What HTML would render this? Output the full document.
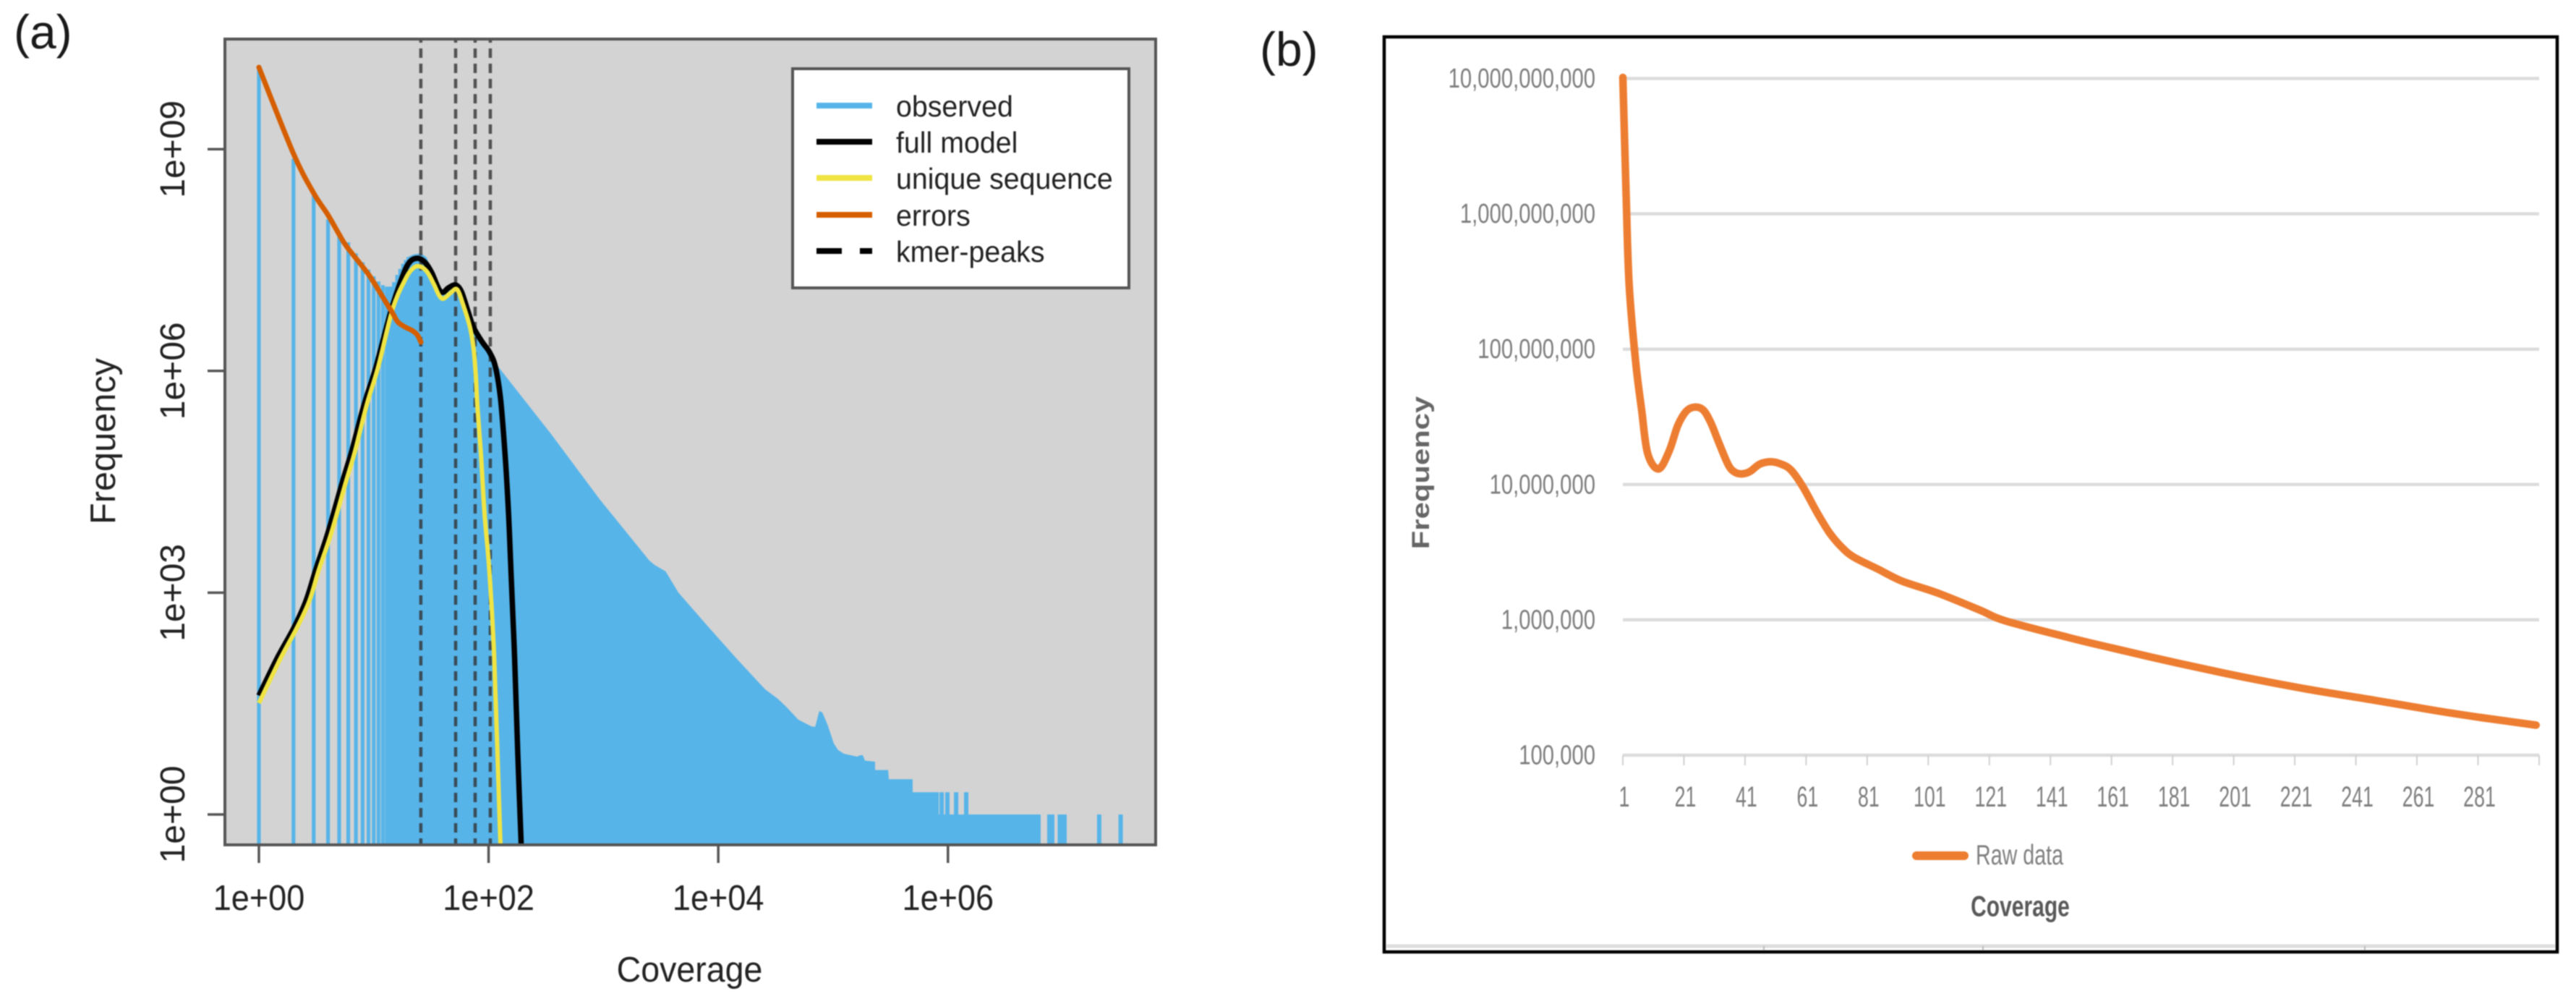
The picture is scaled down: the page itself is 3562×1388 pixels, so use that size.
<!DOCTYPE html>
<html lang="en">
<head>
<meta charset="utf-8">
<title>K-mer coverage histograms</title>
<style>
html,body{margin:0;padding:0;background:#fff;width:3562px;height:1388px;overflow:hidden}
svg{display:block;filter:blur(.9px)}
text{font-family:"Liberation Sans",sans-serif}
</style>
</head>
<body>
<svg id="figure" xmlns="http://www.w3.org/2000/svg" width="3562" height="1388" viewBox="0 0 3562 1388">
  <defs><clipPath id="clip-a"><rect x="311" y="54" width="1287" height="1114"/></clipPath></defs>

  <text x="19" y="67" font-size="66" fill="#1a1a1a">(a)</text>
  <g id="panel-a">
    <rect x="311" y="54" width="1287" height="1114" fill="#d3d3d3"/>
    <g id="a-marks" clip-path="url(#clip-a)"></g>
    <rect x="311" y="54" width="1287" height="1114" fill="none" stroke="#555" stroke-width="4"/>
    <g id="a-axes"></g>
    <text transform="translate(159,610) rotate(-90)" text-anchor="middle" font-size="48.7" fill="#222">Frequency</text>
    <text transform="translate(953.5,1357) scale(.95,1)" text-anchor="middle" font-size="49" fill="#222">Coverage</text>
    <g>
      <rect x="1096" y="95" width="465" height="303" fill="#fff" stroke="#555" stroke-width="4"/>
      <g>
        <line x1="1129" x2="1206" y1="146" y2="146" stroke="#56B4E9" stroke-width="8"/>
        <text transform="translate(1239,161) scale(.96,1)" font-size="41" fill="#222">observed</text>
      </g>
      <g>
        <line x1="1129" x2="1206" y1="196" y2="196" stroke="#000" stroke-width="8"/>
        <text transform="translate(1239,211) scale(.96,1)" font-size="41" fill="#222">full model</text>
      </g>
      <g>
        <line x1="1129" x2="1206" y1="246" y2="246" stroke="#F0E442" stroke-width="8"/>
        <text transform="translate(1239,261) scale(.96,1)" font-size="41" fill="#222">unique sequence</text>
      </g>
      <g>
        <line x1="1129" x2="1206" y1="297" y2="297" stroke="#D55E00" stroke-width="8"/>
        <text transform="translate(1239,312) scale(.96,1)" font-size="41" fill="#222">errors</text>
      </g>
      <g>
        <line x1="1129" x2="1206" y1="347" y2="347" stroke="#000" stroke-width="8" stroke-dasharray="35 25"/>
        <text transform="translate(1239,362) scale(.96,1)" font-size="41" fill="#222">kmer-peaks</text>
      </g>
    </g>
  </g>

  <text x="1742" y="91" font-size="66" fill="#1a1a1a">(b)</text>
  <g id="panel-b">
    <rect x="1914" y="51" width="1622" height="1265" fill="#fff" stroke="#000" stroke-width="4.5"/>
    <line x1="1917" x2="3533" y1="1308" y2="1308" stroke="#ddd" stroke-width="5"/>
    <line x1="2439" x2="2439" y1="1308" y2="1314" stroke="#bbb" stroke-width="2"/>
    <line x1="2742" x2="2742" y1="1308" y2="1314" stroke="#bbb" stroke-width="2"/>
    <line x1="3270" x2="3270" y1="1308" y2="1314" stroke="#bbb" stroke-width="2"/>
    <g id="b-axes"></g>
    <g id="b-marks"></g>
    <text transform="translate(1976,653.5) rotate(-90) scale(1.23,1)" text-anchor="middle" font-size="34" font-weight="bold" fill="#666">Frequency</text>
    <text transform="translate(2793.5,1266.5) scale(.75,1)" text-anchor="middle" font-size="40" font-weight="bold" fill="#595959">Coverage</text>
    <g>
      <line x1="2650" x2="2716" y1="1183" y2="1183" stroke="#ED7D31" stroke-width="12" stroke-linecap="round"/>
      <text transform="translate(2732,1195) scale(.735,1)" font-size="39" fill="#7f7f7f">Raw data</text>
    </g>
  </g>
</svg>

<script>
// ---------- Panel (a) data: log10 units ----------
const aXTickExponents = [0, 2, 4, 6];
const aXTickLabels = ['1e+00', '1e+02', '1e+04', '1e+06'];
const aYTickExponents = [0, 3, 6, 9];
const aYTickLabels = ['1e+00', '1e+03', '1e+06', '1e+09'];

const kmerPeakLogCoverage = [1.41, 1.713, 1.883, 2.015];

// Integer-coverage spikes of the observed histogram
const spikeCoverage = [1,2,3,4,5,6,7,8,9,10,11,12,13,14,15,16,17,18,19,20];
const spikeLogFreq = [10.11,8.87,8.376,8.05,7.83,7.74,7.59,7.47,7.37,7.28,7.21,7.16,7.14,7.14,7.20,7.30,7.38,7.45,7.50,7.54];

// Continuous tail of the observed histogram
const tailLogCoverage = [1.301,1.341,1.379,1.411,1.461,1.505,1.549,1.587,1.637,1.681,1.713,1.757,1.795,1.839,1.870,1.914,1.965,2.009,2.059,2.544,2.966,3.398,3.445,3.542,3.652,3.904,4.156,4.408,4.518,4.591,4.698,4.808,4.843,4.880,4.906,4.952,5.006,5.044,5.094,5.208,5.239,5.258,5.277,5.365,5.365,5.479,5.485,5.693,5.693,5.893,5.893,6.807];
const tailLogFreq = [7.544,7.573,7.583,7.593,7.534,7.358,7.182,7.055,7.104,7.143,7.143,7.006,6.859,6.654,6.517,6.399,6.311,6.243,6.106,5.147,4.266,3.438,3.376,3.288,3.004,2.554,2.114,1.693,1.566,1.458,1.282,1.194,1.184,1.399,1.380,1.213,0.959,0.871,0.822,0.783,0.802,0.802,0.729,0.714,0.602,0.602,0.477,0.477,0.301,0.301,0,0];

// Rare high-coverage k-mers
const rareLogCoverage = [5.901,5.945,5.995,6.071,6.159,6.883,6.908,6.974,7.002,7.015,7.317,7.504];
const rareLogFreq = [0.301,0.301,0.301,0.301,0.301,0,0,0,0,0,0,0];

const modelLogCoverage = [0,.159,.307,.411,.496,.600,.726,.810,.915,1.020,1.146,1.251,1.314,1.385,1.448,1.505,1.568,1.606,1.650,1.713,1.763,1.820,1.870,1.946,2.009,2.059,2.103,2.143,2.174,2.196,2.227,2.254,2.284];
const modelLogFreq = [1.609,2.114,2.534,2.896,3.317,3.806,4.491,4.922,5.538,6.057,6.791,7.280,7.476,7.524,7.466,7.329,7.104,7.065,7.123,7.162,7.074,6.810,6.585,6.389,6.252,6.057,5.636,4.883,4.070,3.258,2.114,0.841,-0.411];

const uniqueLogCoverage = [0,.189,.334,.441,.523,.630,.756,.838,.938,1.039,1.165,1.272,1.335,1.392,1.461,1.524,1.568,1.606,1.669,1.725,1.776,1.839,1.870,1.889,1.902,1.933,1.965,2.007,2.049,2.103];
const uniqueLogFreq = [1.507,2.114,2.534,2.896,3.317,3.806,4.491,4.922,5.538,6.057,6.840,7.231,7.378,7.417,7.348,7.172,7.025,6.977,7.055,7.104,6.908,6.585,6.292,5.930,5.538,4.883,4.070,3.288,2.114,-0.411];

const errorLogCoverage = [0,.300,.477,.601,.695,.768,.957,1.083,1.165,1.209,1.272,1.335,1.379,1.411];
const errorLogFreq = [10.108,8.943,8.405,8.112,7.857,7.674,7.300,6.986,6.781,6.663,6.595,6.546,6.487,6.389];

// ---------- Panel (b) data ----------
const bYTickExponents = [10, 9, 8, 7, 6, 5];
const bYTickLabels = ['10,000,000,000','1,000,000,000','100,000,000','10,000,000','1,000,000','100,000'];
const bXTickValues = [1,21,41,61,81,101,121,141,161,181,201,221,241,261,281,301];
const bXTickLabels = ['1','21','41','61','81','101','121','141','161','181','201','221','241','261','281',''];
const rawCoverage = [1,2.07,3.06,5.19,7.16,9.13,12.7,16.2,19,21.8,24.5,27.3,29.7,32.4,35.6,37.9,40.3,42.7,45.8,49.4,52.9,56.1,60,64.8,68.7,72.7,76.6,84.5,92.4,104.2,118,126,147,161,183,204,225,247,268,282,300];
const rawLogFreq = [10.008,9.148,8.479,7.908,7.551,7.230,7.115,7.249,7.436,7.542,7.572,7.551,7.462,7.311,7.142,7.088,7.079,7.097,7.150,7.168,7.150,7.106,6.981,6.785,6.642,6.536,6.464,6.375,6.286,6.197,6.071,5.994,5.869,5.793,5.679,5.578,5.488,5.406,5.326,5.278,5.222];

// ---------- Axis functions ----------
const xA = lc => 358 + 158.8 * lc;
const yA = lf => 1126 - 102.2 * lf;
const xB = c => 2244 + (c - 1) * 4.2233;
const yB = lf => 1044 - 187.1 * (lf - 5);
const A_BOTTOM = 1168;

const NS = 'http://www.w3.org/2000/svg';
function make(tag, parent, props) {
  const el = document.createElementNS(NS, tag);
  for (const k in props) el.setAttribute(k, props[k]);
  parent.appendChild(el);
  return el;
}
function smooth(pts) {
  let d = 'M' + pts[0][0].toFixed(1) + ' ' + pts[0][1].toFixed(1);
  for (let i = 0; i < pts.length - 1; i++) {
    const p0 = pts[Math.max(i - 1, 0)], p1 = pts[i], p2 = pts[i + 1], p3 = pts[Math.min(i + 2, pts.length - 1)];
    const c1x = p1[0] + (p2[0] - p0[0]) / 6, c1y = p1[1] + (p2[1] - p0[1]) / 6;
    const c2x = p2[0] - (p3[0] - p1[0]) / 6, c2y = p2[1] - (p3[1] - p1[1]) / 6;
    d += 'C' + c1x.toFixed(1) + ' ' + c1y.toFixed(1) + ' ' + c2x.toFixed(1) + ' ' + c2y.toFixed(1) + ' ' + p2[0].toFixed(1) + ' ' + p2[1].toFixed(1);
  }
  return d;
}
const zipA = (xs, ys) => xs.map((v, i) => [xA(v), yA(ys[i])]);
const aMarks = document.getElementById('a-marks');
const aAxes = document.getElementById('a-axes');
const bMarks = document.getElementById('b-marks');
const bAxes = document.getElementById('b-axes');

// ---------- Panel (a) marks ----------
spikeCoverage.forEach((c, i) => {
  const x = xA(Math.log10(c));
  const el = make('line', aMarks, {x1: x, x2: x, y1: yA(spikeLogFreq[i]), y2: A_BOTTOM, stroke: '#56B4E9', 'stroke-width': 5.2});
  
  
});

const tailPts = zipA(tailLogCoverage, tailLogFreq);
let tailD = 'M' + xA(tailLogCoverage[0]) + ' ' + A_BOTTOM;
tailPts.forEach(p => { tailD += 'L' + p[0].toFixed(1) + ' ' + p[1].toFixed(1); });
tailD += 'L' + xA(tailLogCoverage[tailLogCoverage.length - 1]) + ' ' + A_BOTTOM + 'Z';
const tailEl = make('path', aMarks, {d: tailD, fill: '#56B4E9'});



rareLogCoverage.forEach((lc, i) => {
  const x = xA(lc);
  const el = make('line', aMarks, {x1: x, x2: x, y1: yA(rareLogFreq[i]), y2: A_BOTTOM, stroke: '#56B4E9', 'stroke-width': 6});
  
  
});

kmerPeakLogCoverage.forEach(lc => {
  const x = xA(lc);
  const el = make('line', aMarks, {x1: x, x2: x, y1: 46, y2: A_BOTTOM, stroke: '#333', 'stroke-width': 4.5, 'stroke-dasharray': '13 8', opacity: .8});
  
  
});

const modelEl = make('path', aMarks, {d: smooth(zipA(modelLogCoverage, modelLogFreq)), fill: 'none', stroke: '#000', 'stroke-width': 7.5, 'stroke-linejoin': 'round'});



const uniqueEl = make('path', aMarks, {d: smooth(zipA(uniqueLogCoverage, uniqueLogFreq)), fill: 'none', stroke: '#F0E442', 'stroke-width': 6, 'stroke-linejoin': 'round'});



const errorEl = make('path', aMarks, {d: smooth(zipA(errorLogCoverage, errorLogFreq)), fill: 'none', stroke: '#D55E00', 'stroke-width': 7, 'stroke-linejoin': 'round', 'stroke-linecap': 'round'});



// ---------- Panel (a) axes ----------
aXTickExponents.forEach((e, i) => {
  const x = xA(e);
  const tick = make('line', aAxes, {x1: x, x2: x, y1: A_BOTTOM, y2: 1193, stroke: '#555', 'stroke-width': 3.5});
  
  
  const t = make('text', aAxes, {transform: 'translate(' + x + ',1258) scale(.92,1)', 'text-anchor': 'middle', 'font-size': 49, fill: '#222'});
  
  
  t.textContent = aXTickLabels[i];
});
aYTickExponents.forEach((e, i) => {
  const y = yA(e);
  const tick = make('line', aAxes, {x1: 287, x2: 311, y1: y, y2: y, stroke: '#555', 'stroke-width': 3.5});
  
  
  const t = make('text', aAxes, {transform: 'translate(255,' + y + ') rotate(-90)', 'text-anchor': 'middle', 'font-size': 48, fill: '#222'});
  
  
  t.textContent = aYTickLabels[i];
});

// ---------- Panel (b) axes ----------
bYTickExponents.forEach((e, i) => {
  const y = yB(e);
  const grid = make('line', bAxes, {x1: xB(1), x2: xB(301), y1: y, y2: y, stroke: '#dcdcdc', 'stroke-width': 4.5});
  
  
  const t = make('text', bAxes, {transform: 'translate(2206,' + (y + 12.5) + ') scale(.77,1)', 'text-anchor': 'end', 'font-size': 38, fill: '#7d7d7d'});
  
  
  t.textContent = bYTickLabels[i];
});
bXTickValues.forEach((c, i) => {
  const x = xB(c);
  const tick = make('line', bAxes, {x1: x, x2: x, y1: yB(5), y2: yB(5) + 14, stroke: '#d0d0d0', 'stroke-width': 2});
  
  
  const t = make('text', bAxes, {transform: 'translate(' + (x + 2) + ',1115) scale(.67,1)', 'text-anchor': 'middle', 'font-size': 40, fill: '#7d7d7d'});
  
  
  t.textContent = bXTickLabels[i];
});

// ---------- Panel (b) series ----------
const rawEl = make('path', bMarks, {d: smooth(rawCoverage.map((c, i) => [xB(c), yB(rawLogFreq[i])])), fill: 'none', stroke: '#ED7D31', 'stroke-width': 10.5, 'stroke-linejoin': 'round', 'stroke-linecap': 'round'});


</script>
</body>
</html>
